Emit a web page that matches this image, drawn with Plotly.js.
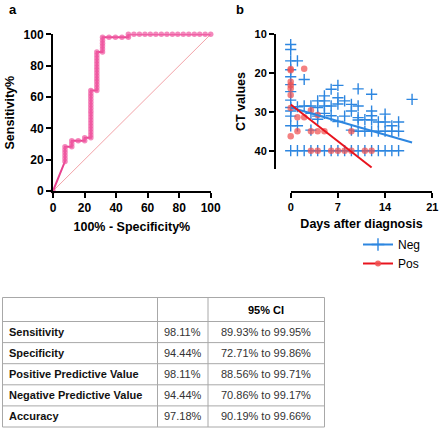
<!DOCTYPE html>
<html>
<head>
<meta charset="utf-8">
<script src="https://cdn.plot.ly/plotly-3.0.1.min.js"></script>
<style>
html,body{margin:0;padding:0;background:#fff;}
#chart{width:440px;height:428px;}
</style>
</head>
<body>
<div id="chart"></div>
<script>
// ---------- Panel a: ROC curve ----------
const rocX = [0,
  7.6,7.6,7.6,7.6,7.6,7.6,
  11.9,11.9,11.9,
  16.0,
  20.1,20.1,
  24.0,24.0,24.0,24.0,24.0,24.0,24.0,24.0,24.0,24.0,24.0,24.0,24.0,24.0,24.0,24.0,24.0,
  27.8,27.8,27.8,27.8,27.8,27.8,27.8,27.8,27.8,27.8,27.8,27.8,27.8,27.8,
  31.4,31.4,31.4,31.4,31.4,31.4,
  35.5,39.6,43.7,47.8,47.8,
  51.3,54.8,58.3,61.7,65.2,68.7,72.2,75.7,79.1,82.6,86.1,89.6,93.0,96.5,100];
const rocY = [0,
  18.9,20.8,22.6,24.5,26.4,28.3,
  28.3,30.2,32.1,
  32.1,
  32.1,34.0,
  34.0,35.8,37.7,39.6,41.5,43.4,45.3,47.2,49.1,50.9,52.8,54.7,56.6,58.5,60.4,62.3,64.2,
  64.2,66.0,67.9,69.8,71.7,73.6,75.5,77.4,79.2,81.1,83.0,84.9,86.8,88.7,
  88.7,90.6,92.5,94.3,96.2,98.1,
  98.1,98.1,98.1,98.1,100,
  100,100,100,100,100,100,100,100,100,100,100,100,100,100,100];
const refX = [0, 100];
const refY = [0, 100];
const rocTicks = [0, 20, 40, 60, 80, 100];

// ---------- Panel b: CT values vs days ----------
const negX = [0,0,0,0,0,0,0,0,0,0,0,0,0,
  1,1,1,1,
  2,2,2,
  3,3,3,3,
  4,4,4,4,4,
  5,5,5,5,5,
  6,6,6,6,
  7,7,7,7,7,
  8,8,8,
  9,9,9,9,
  10,10,10,10,10,10,
  11,11,11,
  12,12,12,12,12,12,
  13,13,13,
  14,14,14,14,
  15,15,15,
  16,16,16,
  18];
const negY = [12.7,14.0,16.9,19.2,21.0,23.0,24.8,27.0,28.9,29.8,31.1,33.6,40,
  16.9,28.7,33.6,40,
  21.7,28.5,40,
  28.5,30.4,34.7,40,
  27.2,28.9,31.1,31.9,40,
  25.9,27.2,28.5,30.4,40,
  24.2,28.5,31.0,40,
  23.2,26.4,28.0,32.5,40,
  27.2,31.1,40,
  28.1,29.8,34.7,40,
  24.1,28.5,31.5,32.1,35.0,40,
  32.0,35.0,40,
  25.5,29.8,31.0,32.1,35.0,40,
  32.6,35.0,40,
  30.6,32.6,35.0,40,
  33.6,35.0,40,
  32.6,35.0,40,
  26.8];
const posX = [0,0,0,0,0,0,0,0,
  1,1,
  2,2,
  3,3,3,
  4,4,4,
  5,
  6,7,8,
  9,9,
  11,12];
const posY = [19.0,19.3,22.3,23.2,24.0,25.7,29.0,36.3,
  31.4,35.0,
  18.9,31.4,
  29.6,35.0,40,
  30.8,35.0,40,
  35.0,
  40,40,40,
  35.0,40,
  40,40];
const negFitX = [0, 18];
const negFitY = [28.9, 37.9];
const posFitX = [0, 12];
const posFitY = [28.1, 44.3];
const dayTicks = [0, 7, 14, 21];
const ctTicks = [10, 20, 30, 40];

// ---------- Table ----------
const rowLabels = ['Sensitivity', 'Specificity', 'Positive Predictive Value', 'Negative Predictive Value', 'Accuracy'];
const rowValues = ['98.11%', '94.44%', '98.11%', '94.44%', '97.18%'];
const rowCI = ['89.93% to 99.95%', '72.71% to 99.86%', '88.56% to 99.71%', '70.86% to 99.17%', '90.19% to 99.66%'];
const headerLabels = ['', '', '95% CI'];

const FONT = 'Liberation Sans, Arial, Helvetica, sans-serif';
const BLUE = '#2d86e0';
const RED = '#e8141e';
const W = 440, H = 428;
const px = function(v){ return v / W; };
const py = function(v){ return 1 - v / H; };

const traces = [
  {x: refX, y: refY, xaxis: 'x', yaxis: 'y', mode: 'lines', showlegend: false, hoverinfo: 'skip',
   line: {color: '#f2a3a8', width: 1}},
  {x: rocX, y: rocY, xaxis: 'x', yaxis: 'y', mode: 'lines+markers', showlegend: false, cliponaxis: false,
   line: {color: '#e8418f', width: 2},
   marker: {symbol: 'circle', size: 5.5, color: 'rgba(240,90,162,0.72)', line: {width: 0}}},
  {x: negX, y: negY, xaxis: 'x2', yaxis: 'y2', mode: 'markers', showlegend: false, cliponaxis: false,
   marker: {symbol: 'cross-thin', size: 8, color: BLUE, line: {color: BLUE, width: 1.4}}},
  {x: posX, y: posY, xaxis: 'x2', yaxis: 'y2', mode: 'markers', showlegend: false, cliponaxis: false,
   marker: {symbol: 'circle', size: 6.5, color: 'rgba(240,80,80,0.72)', line: {width: 0}}},
  {x: negFitX, y: negFitY, xaxis: 'x2', yaxis: 'y2', mode: 'lines', showlegend: false, cliponaxis: false,
   line: {color: BLUE, width: 2}},
  {x: posFitX, y: posFitY, xaxis: 'x2', yaxis: 'y2', mode: 'lines', showlegend: false, cliponaxis: false,
   line: {color: RED, width: 2}},
  {x: [null], y: [null], xaxis: 'x2', yaxis: 'y2', mode: 'lines+markers', name: 'Neg',
   line: {color: BLUE, width: 2}, marker: {symbol: 'cross-thin', size: 9, color: BLUE, line: {color: BLUE, width: 1.4}}},
  {x: [null], y: [null], xaxis: 'x2', yaxis: 'y2', mode: 'lines+markers', name: 'Pos',
   line: {color: RED, width: 2}, marker: {symbol: 'circle', size: 6, color: 'rgba(240,80,80,0.85)'}}
];

// ---------- Table built from shapes (grid) + annotations (cell text) ----------
const tableLeft = 2.5, tableTop = 297.5;
const colWidths = [155, 50.5, 116.5];
const headerH = 24;
const rowH = 21.1;
const gridColor = '#a8a8a8';
const colEdges = [tableLeft];
colWidths.forEach(function(w){ colEdges.push(colEdges[colEdges.length - 1] + w); });
const rowEdges = [tableTop, tableTop + headerH];
rowLabels.forEach(function(){ rowEdges.push(rowEdges[rowEdges.length - 1] + rowH); });
const tableRight = colEdges[colEdges.length - 1];
const tableBottom = rowEdges[rowEdges.length - 1];

const shapes = [];
rowEdges.forEach(function(y){
  shapes.push({type: 'line', xref: 'paper', yref: 'paper', x0: px(tableLeft), x1: px(tableRight), y0: py(y), y1: py(y),
    line: {color: gridColor, width: 1}});
});
colEdges.forEach(function(x){
  shapes.push({type: 'line', xref: 'paper', yref: 'paper', x0: px(x), x1: px(x), y0: py(tableTop), y1: py(tableBottom),
    line: {color: gridColor, width: 1}});
});

const annotations = [
  {text: '<b>a</b>', x: px(13), y: py(10), xref: 'paper', yref: 'paper', showarrow: false,
   xanchor: 'center', yanchor: 'middle', font: {size: 13, color: '#000'}},
  {text: '<b>b</b>', x: px(240), y: py(10), xref: 'paper', yref: 'paper', showarrow: false,
   xanchor: 'center', yanchor: 'middle', font: {size: 13, color: '#000'}}
];
const colCenter = function(i){ return (colEdges[i] + colEdges[i + 1]) / 2; };
headerLabels.forEach(function(h, i){
  if (!h) return;
  annotations.push({text: '<b>' + h + '</b>', x: px(colCenter(i)), y: py(tableTop + headerH / 2),
    xref: 'paper', yref: 'paper', showarrow: false, xanchor: 'center', yanchor: 'middle',
    font: {family: FONT, size: 11, color: '#000'}});
});
rowLabels.forEach(function(lab, r){
  const yc = py((rowEdges[r + 1] + rowEdges[r + 2]) / 2);
  annotations.push({text: '<b>' + lab + '</b>', x: px(colEdges[0] + 4.5), y: yc, xref: 'paper', yref: 'paper',
    showarrow: false, xanchor: 'left', yanchor: 'middle', font: {family: FONT, size: 11, color: '#111'}});
  annotations.push({text: rowValues[r], x: px(colCenter(1)), y: yc, xref: 'paper', yref: 'paper',
    showarrow: false, xanchor: 'center', yanchor: 'middle', font: {family: FONT, size: 11, color: '#333'}});
  annotations.push({text: rowCI[r], x: px(colCenter(2)), y: yc, xref: 'paper', yref: 'paper',
    showarrow: false, xanchor: 'center', yanchor: 'middle', font: {family: FONT, size: 11, color: '#333'}});
});

const axisCommon = {
  showline: true, linewidth: 2, linecolor: '#000', ticks: 'outside', ticklen: 5, tickwidth: 2, tickcolor: '#000',
  showgrid: false, zeroline: false, fixedrange: true
};

const layout = {
  width: W, height: H, margin: {l: 0, r: 0, t: 0, b: 0},
  paper_bgcolor: '#fff', plot_bgcolor: 'rgba(0,0,0,0)',
  font: {family: FONT, color: '#000'},
  showlegend: true,
  legend: {x: px(358), y: py(230), xanchor: 'left', yanchor: 'top', bgcolor: 'rgba(0,0,0,0)',
    font: {family: FONT, size: 12, color: '#000'}, tracegroupgap: 0},
  xaxis: Object.assign({}, axisCommon, {domain: [px(53), px(210.7)], range: [0, 100], tickvals: rocTicks, anchor: 'y',
    tickfont: {size: 12, weight: 'bold'},
    title: {text: '100% - Specificity%', font: {size: 12.5, weight: 'bold'}, standoff: 8}}),
  yaxis: Object.assign({}, axisCommon, {domain: [py(191), py(34.3)], range: [0, 100], tickvals: rocTicks, anchor: 'x',
    tickfont: {size: 12, weight: 'bold'},
    title: {text: 'Sensitivity%', font: {size: 12.5, weight: 'bold'}, standoff: 6}}),
  xaxis2: Object.assign({}, axisCommon, {domain: [px(290.7), px(432.3)], range: [0, 21], tickvals: dayTicks,
    anchor: 'free', position: py(192),
    tickfont: {size: 11, weight: 'bold'},
    title: {text: 'Days after diagnosis', font: {size: 12.5, weight: 'bold'}, standoff: 6}}),
  yaxis2: Object.assign({}, axisCommon, {domain: [py(169), py(34)], range: [44.7, 10], tickvals: ctTicks,
    anchor: 'free', position: px(275),
    tickfont: {size: 11, weight: 'bold'},
    title: {text: 'CT values', font: {size: 12.5, weight: 'bold'}, standoff: 5}}),
  shapes: shapes,
  annotations: annotations
};

Plotly.newPlot('chart', traces, layout, {displayModeBar: false, staticPlot: true});
</script>
</body>
</html>
